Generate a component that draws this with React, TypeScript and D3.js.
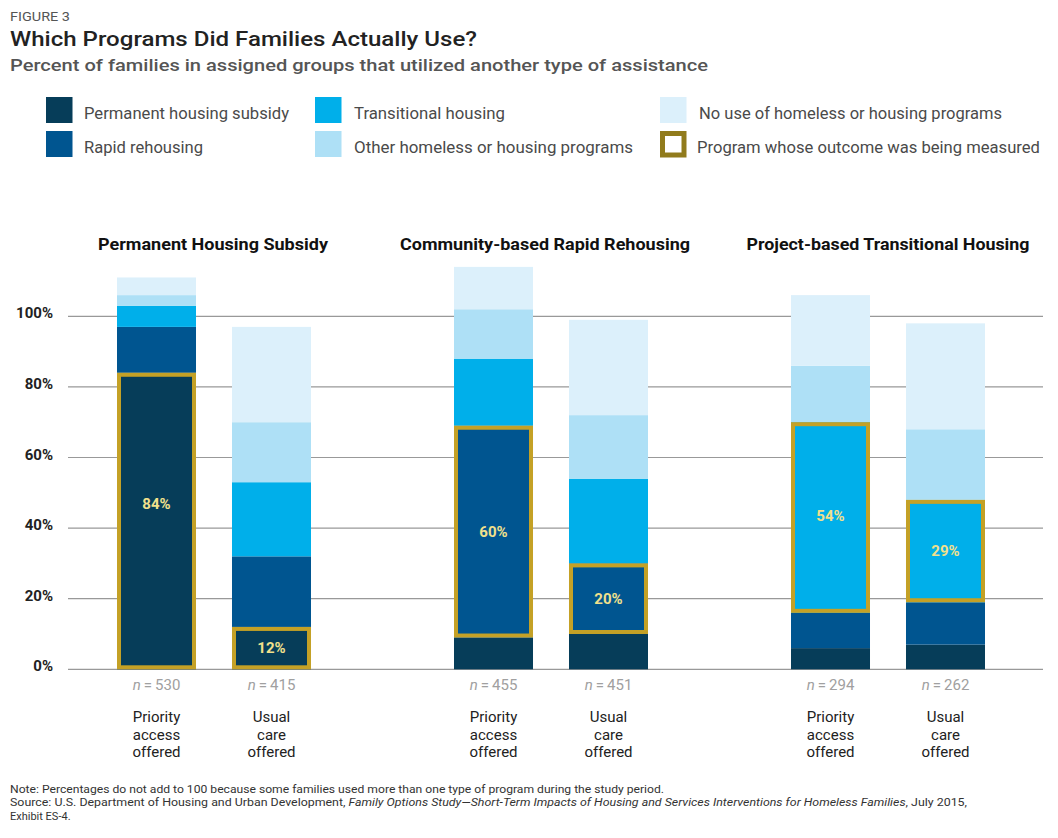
import React, { useEffect } from 'react';
import * as d3 from 'd3';

// ---- data ----
const groups = ['Permanent Housing Subsidy', 'Community-based Rapid Rehousing', 'Project-based Transitional Housing'];
const arms = ['Priority access offered', 'Usual care offered'];
const programs = ['phs', 'rr', 'th', 'other', 'none'];
const programLabels = [
  'Permanent housing subsidy',
  'Rapid rehousing',
  'Transitional housing',
  'Other homeless or housing programs',
  'No use of homeless or housing programs',
];
const colors = ['#063d59', '#005590', '#00afea', '#aee0f6', '#dcf0fb'];

// per bar: [phs, rr, th, other, none]
const phsValues = [[84, 13, 6, 3, 5], [12, 20, 21, 17, 27]];
const rrValues = [[9, 60, 19, 14, 12], [10, 20, 24, 18, 27]];
const thValues = [[6, 10, 54, 16, 20], [7, 12, 29, 20, 30]];
const groupValues = [phsValues, rrValues, thValues];
const measuredIndex = [0, 1, 2]; // which segment is outlined in each group
const sampleSizes = [[530, 415], [455, 451], [294, 262]];
const yTicks = [0, 20, 40, 60, 80, 100];

const W = 1058;
const H = 838;

const App = () => {
  useEffect(() => {
    document.body.style.margin = '0';
  }, []);

  const y = d3.scaleLinear().domain([0, 100]).range([669.3, 316.3]);
  const gx = d3.scalePoint<string>().domain(groups).range([214, 888]);
  const inner = d3.scaleBand<string>().domain(arms).range([-97, 97]).paddingInner(0.313);
  const font = 'Roboto, "Noto Sans", sans-serif';

  // legend layout
  const legendItems = [
    { label: programLabels[0], color: colors[0], x: 46, y: 97, len: 205 },
    { label: programLabels[1], color: colors[1], x: 46, y: 131, len: 119 },
    { label: programLabels[2], color: colors[2], x: 315, y: 97, len: 151 },
    { label: programLabels[3], color: colors[3], x: 315, y: 131, len: 279 },
    { label: programLabels[4], color: colors[4], x: 660, y: 97, len: 303 },
  ];
  const titleShift = [-1, -6, 0];
  const titleLen = [230, 290, 283];
  const labelShift = [[-17, 0], [0, 0], [-2, 0]];

  return (
    <svg width={W} height={H} style={{ display: 'block', fontFamily: font }}>
      <rect width={W} height={H} fill="#fff" />

      {/* header */}
      <text x={10} y={21} fontSize={13} fill="#555" textLength={60} lengthAdjust="spacingAndGlyphs">FIGURE 3</text>
      <text x={10} y={46} fontSize={20} fontWeight={500} fill="#222" textLength={467} lengthAdjust="spacingAndGlyphs">
        Which Programs Did Families Actually Use?
      </text>
      <text x={10} y={71} fontSize={16} fontWeight={500} fill="#555" textLength={698} lengthAdjust="spacingAndGlyphs">
        Percent of families in assigned groups that utilized another type of assistance
      </text>

      {/* legend */}
      {legendItems.map((d) => (
        <g key={d.label}>
          <rect x={d.x} y={d.y} width={26.5} height={26} fill={d.color} />
          <text x={d.x + (d.x === 46 ? 38 : 39)} y={d.y + 22} fontSize={16.5} fill="#4a4a4a"
            textLength={d.len} lengthAdjust="spacingAndGlyphs">{d.label}</text>
        </g>
      ))}
      <rect x={662.5} y={133.5} width={21.5} height={21.5} fill="#fff" stroke="#917b1c" strokeWidth={5} />
      <text x={697} y={153} fontSize={16.5} fill="#4a4a4a" textLength={343} lengthAdjust="spacingAndGlyphs">
        Program whose outcome was being measured
      </text>

      {/* gridlines + y axis */}
      {yTicks.map((t) => (
        <g key={t}>
          <line x1={68} x2={1043} y1={y(t)} y2={y(t)} stroke="#999" strokeWidth={1.2} />
          <text x={53} y={y(t) + 2} textAnchor="end" fontSize={15} fontWeight={700} fill="#222">{t}%</text>
        </g>
      ))}

      {/* bars */}
      {groups.map((g, gi) => {
        const cx = gx(g)!;
        return (
          <g key={g}>
            <text x={cx + titleShift[gi]} y={250} textAnchor="middle" fontSize={17} fontWeight={700} fill="#111"
              textLength={titleLen[gi]} lengthAdjust="spacingAndGlyphs">{g}</text>
            {arms.map((a, ai) => {
              const vals = groupValues[gi][ai];
              const x0 = cx + inner(a)!;
              const bw = inner.bandwidth();
              const stack = d3.cumsum(vals);
              const m = measuredIndex[gi];
              const mTop = y(stack[m]);
              const mBot = y(stack[m] - vals[m]);
              const lines = a.split(' ');
              return (
                <g key={a}>
                  {vals.map((v, si) => (
                    <rect key={programs[si]} x={x0} width={bw} y={y(stack[si])}
                      height={y(stack[si] - v) - y(stack[si])} fill={colors[si]} />
                  ))}
                  <rect x={x0 + 2} y={mTop + 2} width={bw - 4} height={mBot - mTop - 4}
                    fill="none" stroke="#c4a126" strokeWidth={4} />
                  <text x={x0 + bw / 2} y={(mTop + mBot) / 2 + 5 + labelShift[gi][ai]} textAnchor="middle" fontSize={15}
                    fontWeight={700} fill="#f1e08c">{vals[m]}%</text>
                  <text x={x0 + bw / 2} y={690} textAnchor="middle" fontSize={15} fill="#a0a0a0">
                    <tspan fontStyle="italic">n</tspan>{'\u2009=\u2009' + sampleSizes[gi][ai]}
                  </text>
                  {lines.map((l, li) => (
                    <text key={li} x={x0 + bw / 2} y={722 + li * 17.5} textAnchor="middle" fontSize={15} fill="#222">{l}</text>
                  ))}
                </g>
              );
            })}
          </g>
        );
      })}

      {/* notes */}
      <text x={10} y={793} fontSize={11} fill="#333" textLength={654} lengthAdjust="spacingAndGlyphs">
        Note: Percentages do not add to 100 because some families used more than one type of program during the study period.
      </text>
      <text x={10} y={806} fontSize={11} fill="#333" textLength={957} lengthAdjust="spacingAndGlyphs">
        Source: U.S. Department of Housing and Urban Development, <tspan fontStyle="italic">Family Options Study—Short-Term Impacts of Housing and Services Interventions for Homeless Families</tspan>, July 2015,
      </text>
      <text x={10} y={820} fontSize={11} fill="#333">Exhibit ES-4.</text>
    </svg>
  );
};

export default App;
